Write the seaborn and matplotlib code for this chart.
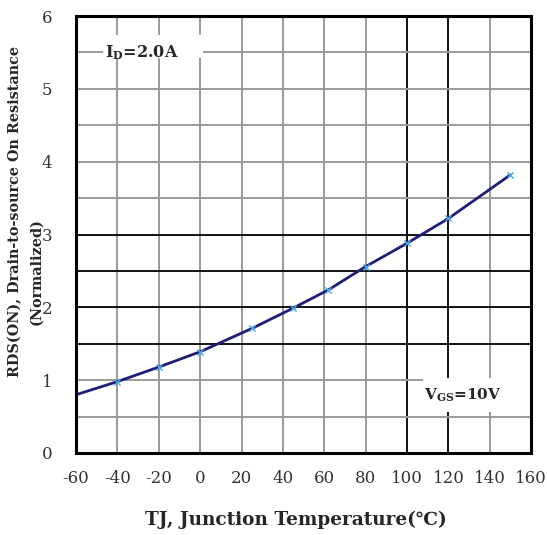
import matplotlib
matplotlib.use("Agg")
import matplotlib.pyplot as plt
from matplotlib.patches import Rectangle
import seaborn as sns
import pandas as pd

# Normalized on-resistance vs junction temperature
temps = [-60, -40, -20, 0, 25, 45, 62, 80, 100, 120, 150]
rds_norm = [0.80, 0.98, 1.18, 1.39, 1.71, 1.99, 2.24, 2.56, 2.88, 3.22, 3.82]

x_ticks = [-60, -40, -20, 0, 20, 40, 60, 80, 100, 120, 140, 160]
y_ticks = [0, 1, 2, 3, 4, 5, 6]

sns.set_style("white")
plt.rcParams["font.family"] = ["DejaVu Serif", "DejaVu Sans"]
plt.rcParams["mathtext.fontset"] = "custom"
plt.rcParams["mathtext.rm"] = "DejaVu Serif"
plt.rcParams["mathtext.bf"] = "DejaVu Serif:bold"

df = pd.DataFrame({"T": temps, "R": rds_norm})

fig = plt.figure(figsize=(5.47, 5.35), dpi=100)
ax = fig.add_axes([0.139, 0.1533, 0.832, 0.8167])

ax.set_xlim(-60, 160)
ax.set_ylim(0, 6)

# grid: light lines every 20 C / 0.5, heavier ones in the middle band
for xv in range(-40, 160, 20):
    heavy = xv in (100, 120)
    ax.axvline(xv, color="#111111" if heavy else "#9a9a9a",
               lw=1.4, zorder=1)
for k in range(1, 12):
    yv = k * 0.5
    heavy = yv in (1.5, 2.0, 2.5, 3.0)
    ax.axhline(yv, color="#111111" if heavy else "#9a9a9a",
               lw=1.4, zorder=1)

sns.lineplot(data=df, x="T", y="R", ax=ax, color="#1e1e78", lw=2.0,
             zorder=3, legend=False)
sns.scatterplot(data=df.iloc[1:], x="T", y="R", ax=ax, marker="x",
                color="#4aa8e0", s=20, linewidth=1.0, zorder=4, legend=False)

ax.set_xticks(x_ticks)
ax.set_yticks(y_ticks)
ax.set_xticklabels([str(v) for v in x_ticks], fontsize=12, color="#333333")
ax.set_yticklabels([str(v) for v in y_ticks], fontsize=12, color="#333333")
ax.tick_params(axis="x", length=0, pad=12)
ax.tick_params(axis="y", length=0, pad=17)
ax.set_xlabel("")
ax.set_ylabel("")

for sp in ax.spines.values():
    sp.set_visible(True)
    sp.set_color("black")
    sp.set_linewidth(2.2)
    sp.set_zorder(5)

# white label backgrounds cut through the grid
ax.add_patch(Rectangle((0.059, 0.904), 0.22, 0.053, transform=ax.transAxes,
                       facecolor="white", edgecolor="none", zorder=2))
ax.add_patch(Rectangle((0.763, 0.094), 0.237, 0.078, transform=ax.transAxes,
                       facecolor="white", edgecolor="none", zorder=2))

ax.text(-46, 5.5, r"I$_\mathbf{D}$=2.0A", fontsize=11.5, fontweight="bold",
        ha="left", va="center", zorder=6)
ax.text(127, 0.80, r"V$_\mathbf{GS}$=10V", fontsize=11, fontweight="bold",
        ha="center", va="center", zorder=6)

fig.text(0.541, 1 - 520 / 535, "TJ, Junction Temperature(℃)", fontsize=13.3,
         fontweight="bold", ha="center", va="center")
fig.text(15 / 547, 1 - 211 / 535, "RDS(ON), Drain-to-source On Resistance",
         fontsize=10.4, fontweight="bold", rotation=90, ha="center", va="center")
fig.text(36 / 547, 1 - 272 / 535, "(Normalized)",
         fontsize=10.4, fontweight="bold", rotation=90, ha="center", va="center")

fig.savefig("out.png", dpi=100)
